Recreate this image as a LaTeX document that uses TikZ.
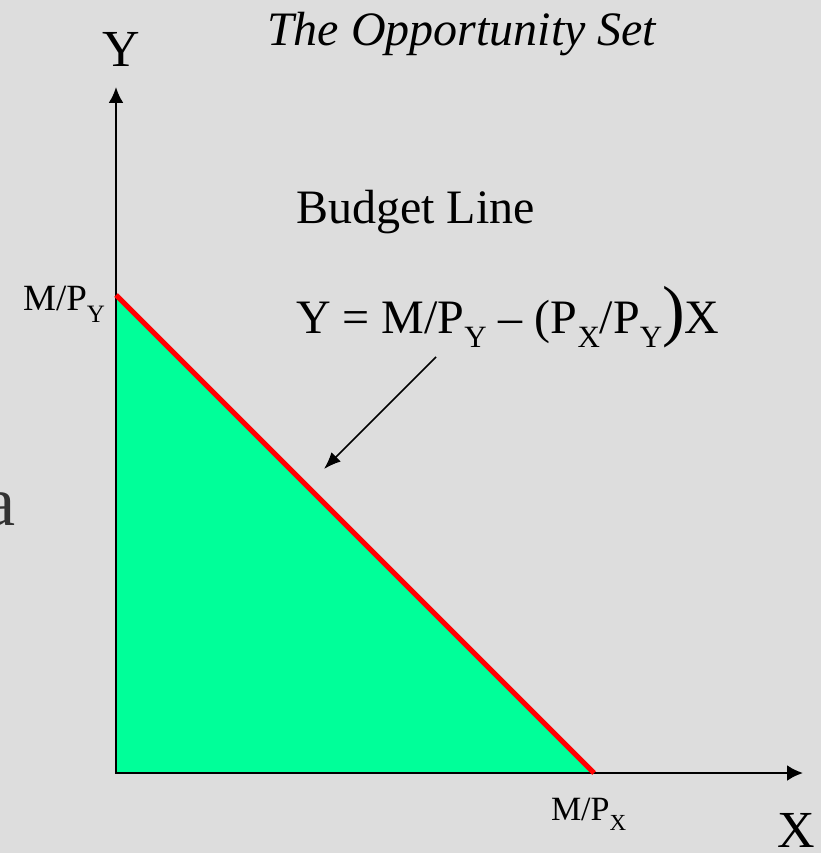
\documentclass[tikz,border=0pt]{standalone}
\usepackage{fontspec}
\setmainfont{Liberation Serif}
\usetikzlibrary{arrows.meta, positioning, calc}

\newcommand{\fsz}[1]{\fontsize{#1}{#1}\selectfont}
\newcommand{\lowsub}[3]{\raisebox{-#2}{\fsz{#1}#3}}

\definecolor{slidegrey}{HTML}{DDDDDD}
\definecolor{setgreen}{HTML}{00FF99}
\definecolor{faintink}{HTML}{333333}

\begin{document}
\begin{tikzpicture}[x=1pt, y=-1pt,
    every node/.style={inner sep=0pt, outer sep=0pt},
    axisline/.style={line width=2.4pt, {Latex[length=16pt,width=15pt]}-{Latex[length=16pt,width=16pt]}},
    budgetline/.style={line width=5pt, red},
    pointer/.style={line width=1.5pt, -{Latex[length=17pt,width=13pt]}}]
      % Slide background
      \fill[slidegrey] (0,0) rectangle (821,853);
      \useasboundingbox (0,0) rectangle (821,853);
      % Axes corners
      \coordinate (O) at (116,773);
      \coordinate (Ytip) at (116,87);
      \coordinate (Xtip) at (803,773);
      \coordinate (A) at (116,295);
      \coordinate (B) at (594,773);
      % Opportunity set
      \fill[setgreen] (A) -- (O) -- (B) -- cycle;
      \draw[axisline] (Ytip) -- (O) -- (Xtip);
      \draw[budgetline] (A) -- (B);
      % Title and axis names
      \node[anchor=base west, font=\fsz{48}\itshape] (title) at (267,46) {The Opportunity Set};
      \node[anchor=base, font=\fsz{52}] (ylab) at (121,67) {Y};
      \node[anchor=base east, font=\fsz{52}] (xlab) at (815,847) {X};
      % Intercepts
      \node[anchor=base east, font=\fsz{37}] (mpy) at (105,310) {M/P\lowsub{25}{12pt}{Y}};
      \node[anchor=base west, font=\fsz{34}] (mpx) at (551,820) {M/P\lowsub{23}{10pt}{X}};
      % Budget line labels
      \node[anchor=base west, font=\fsz{48}] (budget) at (296,223) {Budget Line};
      \node[anchor=base west, font=\fsz{48}] (eqn) at (296,333)
        {Y = M/P\lowsub{31}{14pt}{Y} – (P\lowsub{31}{14pt}{X}/P\lowsub{31}{14pt}{Y}{\fsz{68})}X};
      \coordinate (ptrS) at (436,357);
      \coordinate (ptrE) at (324,469);
      \draw[pointer] (ptrS) -- (ptrE);
      % Cut-off letter at the left edge
      \node[anchor=base east, font=\fsz{70}, text=faintink] (partA) at (16,525) {a};
    \end{tikzpicture}
\end{document}
